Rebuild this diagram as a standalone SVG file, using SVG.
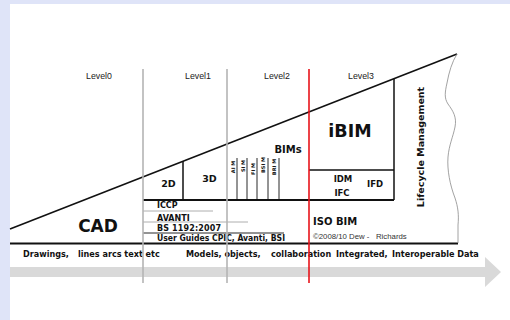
<svg xmlns="http://www.w3.org/2000/svg" width="510" height="320" viewBox="0 0 510 320">
  <style>
    .lvl { font-family: "Liberation Sans", Arial, sans-serif; font-size: 8.8px; fill: #222; text-anchor: middle; }
    .b { font-family: "DejaVu Sans", Verdana, sans-serif; font-weight: bold; fill: #111; }
    .row { font-size: 8.1px; }
    .blk { font-size: 8px; }
    .tiny { font-size: 5px; text-anchor: middle; }
    .ink { stroke: #111; fill: none; }
    .thin { stroke: #111; stroke-width: 0.9; fill: none; }
    .rule { stroke: #9a9a9a; stroke-width: 0.8; fill: none; }
    .era { stroke: #b4b4b4; stroke-width: 1.6; }
    .now { stroke: #e8141b; stroke-width: 1.6; }
  </style>

  <!-- page -->
  <rect x="0" y="0" width="510" height="320" fill="#dfe4f8"/>
  <rect x="10" y="4" width="500" height="316" fill="#ffffff"/>

  <!-- progress arrow -->
  <g id="timeline-arrow">
    <polygon points="10,267 485,267 485,257 501,272 485,287 485,277 10,277" fill="#d9d9d9"/>
  </g>

  <!-- level captions -->
  <g id="levels">
    <text class="lvl" x="99" y="79">Level0</text>
    <text class="lvl" x="198" y="79">Level1</text>
    <text class="lvl" x="277" y="79">Level2</text>
    <text class="lvl" x="361" y="79">Level3</text>
  </g>

  <!-- wedge outline -->
  <g id="connectors">
    <line class="ink" stroke-width="1.6" x1="10" y1="229" x2="457" y2="54"/>
    <line class="ink" stroke-width="2" x1="10" y1="243.5" x2="458" y2="243.5"/>
    <line class="ink" stroke-width="2" x1="143" y1="200" x2="394" y2="200"/>
    <line class="ink" stroke-width="1.5" x1="183" y1="161" x2="183" y2="200"/>
    <line class="ink" stroke-width="1.5" x1="394" y1="79" x2="394" y2="200"/>
    <line class="ink" stroke-width="1.5" x1="309" y1="170" x2="394" y2="170"/>
    <!-- BIM columns -->
    <line class="thin" x1="237" y1="158" x2="237" y2="200"/>
    <line class="thin" x1="247" y1="158" x2="247" y2="200"/>
    <line class="thin" x1="257" y1="158" x2="257" y2="200"/>
    <line class="thin" x1="268" y1="158" x2="268" y2="200"/>
    <line class="thin" x1="279" y1="158" x2="279" y2="200"/>
    <!-- level 1 list rules -->
    <line class="rule" x1="143" y1="211" x2="213" y2="211"/>
    <line class="rule" x1="143" y1="222" x2="248" y2="222"/>
    <line class="thin" stroke="#444" x1="143" y1="233" x2="284" y2="233"/>
    <!-- torn right edge -->
    <path d="M457,54 C452,62 449,72 447,83 C445,92 444,98 448,104 C453,111 457,117 455,127 C453,137 449,145 448,157 C447,170 450,185 455,198 C458,207 459,215 458,225 L458,243" fill="none" stroke="#8a8a8a" stroke-width="0.8"/>
  </g>

  <g id="cad">
    <text class="b" x="98" y="232" font-size="17" text-anchor="middle">CAD</text>
  </g>

  <g id="dims">
    <text class="b" x="168.5" y="187" font-size="9.5" text-anchor="middle">2D</text>
    <text class="b" x="209.5" y="182" font-size="9.5" text-anchor="middle">3D</text>
  </g>

  <g id="standards">
    <text class="b blk" x="157" y="208">ICCP</text>
    <text class="b blk" x="157" y="221">AVANTI</text>
    <text class="b blk" x="157" y="231" textLength="64" lengthAdjust="spacing">BS 1192:2007</text>
    <text class="b blk" x="157" y="241" textLength="128" lengthAdjust="spacingAndGlyphs">User Guides CPIC, Avanti, BSI</text>
  </g>

  <g id="bims">
    <text class="b" x="288" y="153" font-size="10" text-anchor="middle">BIMs</text>
    <text class="b tiny" transform="translate(235,167) rotate(-90)">AI M</text>
    <text class="b tiny" transform="translate(245,166) rotate(-90)">SI M</text>
    <text class="b tiny" transform="translate(255,169) rotate(-90)">FI M</text>
    <text class="b tiny" transform="translate(265,165) rotate(-90)">BSI M</text>
    <text class="b tiny" transform="translate(276,167) rotate(-90)">BRI M</text>
  </g>

  <g id="ibim">
    <text class="b" x="350" y="137" font-size="17.5" text-anchor="middle">iBIM</text>
    <text class="b" x="343" y="182" font-size="8.5" text-anchor="middle">IDM</text>
    <text class="b" x="342" y="196" font-size="8.5" text-anchor="middle">IFC</text>
    <text class="b" x="375" y="187" font-size="8.5" text-anchor="middle">IFD</text>
  </g>

  <g id="iso-bim">
    <text class="b" x="313" y="225" font-size="10">ISO BIM</text>
    <text x="313" y="239" font-family="Liberation Sans, Arial, sans-serif" font-size="7.8" fill="#333" xml:space="preserve">©2008/10 Dew -   Richards</text>
  </g>

  <g id="lifecycle">
    <text class="b" transform="translate(424,147) rotate(-90)" font-size="9.5" text-anchor="middle">Lifecycle Management</text>
  </g>

  <g id="data-row">
    <text class="b row" x="23" y="257">Drawings,</text>
    <text class="b row" x="78" y="257">lines arcs text etc</text>
    <text class="b row" x="186" y="257">Models, objects,</text>
    <text class="b row" x="271" y="257">collaboration</text>
    <text class="b row" x="336" y="257">Integrated,</text>
    <text class="b row" x="392" y="257">Interoperable Data</text>
  </g>

  <!-- level boundaries -->
  <g id="boundaries">
    <line class="era" x1="143" y1="69" x2="143" y2="283"/>
    <line class="era" x1="227" y1="69" x2="227" y2="283"/>
    <line class="now" x1="309" y1="69" x2="309" y2="283"/>
  </g>
</svg>
